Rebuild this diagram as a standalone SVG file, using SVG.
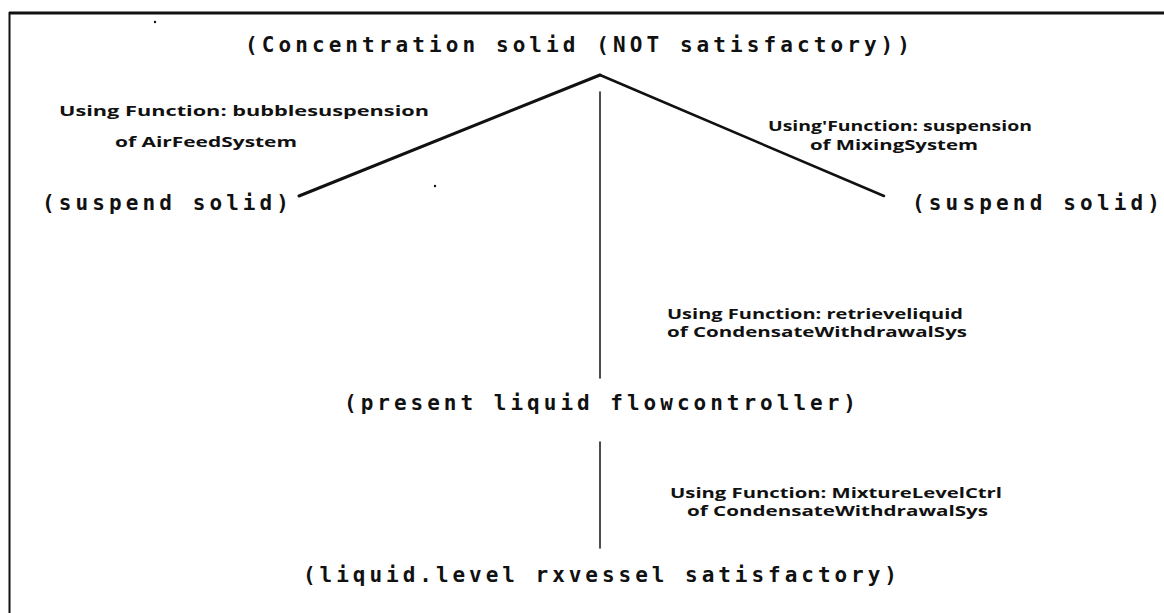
<svg xmlns="http://www.w3.org/2000/svg" width="1164" height="613" viewBox="0 0 1164 613">
  <style>
    .goal { font-family: "DejaVu Sans Mono", "Liberation Mono", monospace; font-size: 21px; font-weight: bold; fill: #111; }
    .fn { font-family: "Open Sans", "Liberation Sans", sans-serif; font-size: 14.5px; font-weight: bold; fill: #111; }
    .edge { stroke: #111; fill: none; stroke-linecap: round; }
    .frame { stroke: #111; fill: none; }
  </style>

  <rect x="0" y="0" width="1164" height="613" fill="#fff"/>

  <!-- page frame: top rule and left margin rule -->
  <g id="frame">
    <line class="frame" x1="9" y1="13" x2="1164" y2="13" stroke-width="3"/>
    <line class="frame" x1="9.5" y1="12" x2="9.5" y2="613" stroke-width="2"/>
    <circle cx="155" cy="22" r="1.2" fill="#111"/>
    <circle cx="435" cy="186" r="1.2" fill="#111"/>
  </g>

  <!-- connectors -->
  <g id="connectors">
    <line class="edge" x1="600" y1="75" x2="299" y2="196" stroke-width="3"/>
    <line class="edge" x1="600" y1="75" x2="884" y2="196" stroke-width="2.5"/>
    <line class="edge" x1="600" y1="92" x2="600" y2="378" stroke-width="1.5"/>
    <line class="edge" x1="600" y1="442" x2="600" y2="548" stroke-width="1.5"/>
  </g>

  <g id="node-concentration">
    <text class="goal" x="245" y="52" textLength="665" lengthAdjust="spacing">(Concentration solid (NOT satisfactory))</text>
  </g>

  <g id="node-suspend-left">
    <text class="goal" x="42" y="210" textLength="247" lengthAdjust="spacing">(suspend solid)</text>
  </g>

  <g id="node-suspend-right">
    <text class="goal" x="912" y="210" textLength="248" lengthAdjust="spacing">(suspend solid)</text>
  </g>

  <g id="node-flowcontroller">
    <text class="goal" x="344" y="410" textLength="512" lengthAdjust="spacing">(present liquid flowcontroller)</text>
  </g>

  <g id="node-liquid-level">
    <text class="goal" x="303" y="582" textLength="594" lengthAdjust="spacing">(liquid.level rxvessel satisfactory)</text>
  </g>

  <!-- function labels on the edges -->
  <g id="label-airfeed">
    <text class="fn" x="59" y="116" textLength="370" lengthAdjust="spacingAndGlyphs">Using Function: bubblesuspension</text>
    <text class="fn" x="115" y="147" textLength="182" lengthAdjust="spacingAndGlyphs">of AirFeedSystem</text>
  </g>

  <g id="label-mixing">
    <text class="fn" x="768" y="131" textLength="264" lengthAdjust="spacingAndGlyphs">Using'Function: suspension</text>
    <text class="fn" x="810" y="150" textLength="168" lengthAdjust="spacingAndGlyphs">of MixingSystem</text>
  </g>

  <g id="label-retrieve">
    <text class="fn" x="667" y="319" textLength="296" lengthAdjust="spacingAndGlyphs">Using Function: retrieveliquid</text>
    <text class="fn" x="667" y="337" textLength="300" lengthAdjust="spacingAndGlyphs">of CondensateWithdrawalSys</text>
  </g>

  <g id="label-mixturelevel">
    <text class="fn" x="670" y="498" textLength="332" lengthAdjust="spacingAndGlyphs">Using Function: MixtureLevelCtrl</text>
    <text class="fn" x="687" y="516" textLength="301" lengthAdjust="spacingAndGlyphs">of CondensateWithdrawalSys</text>
  </g>
</svg>
